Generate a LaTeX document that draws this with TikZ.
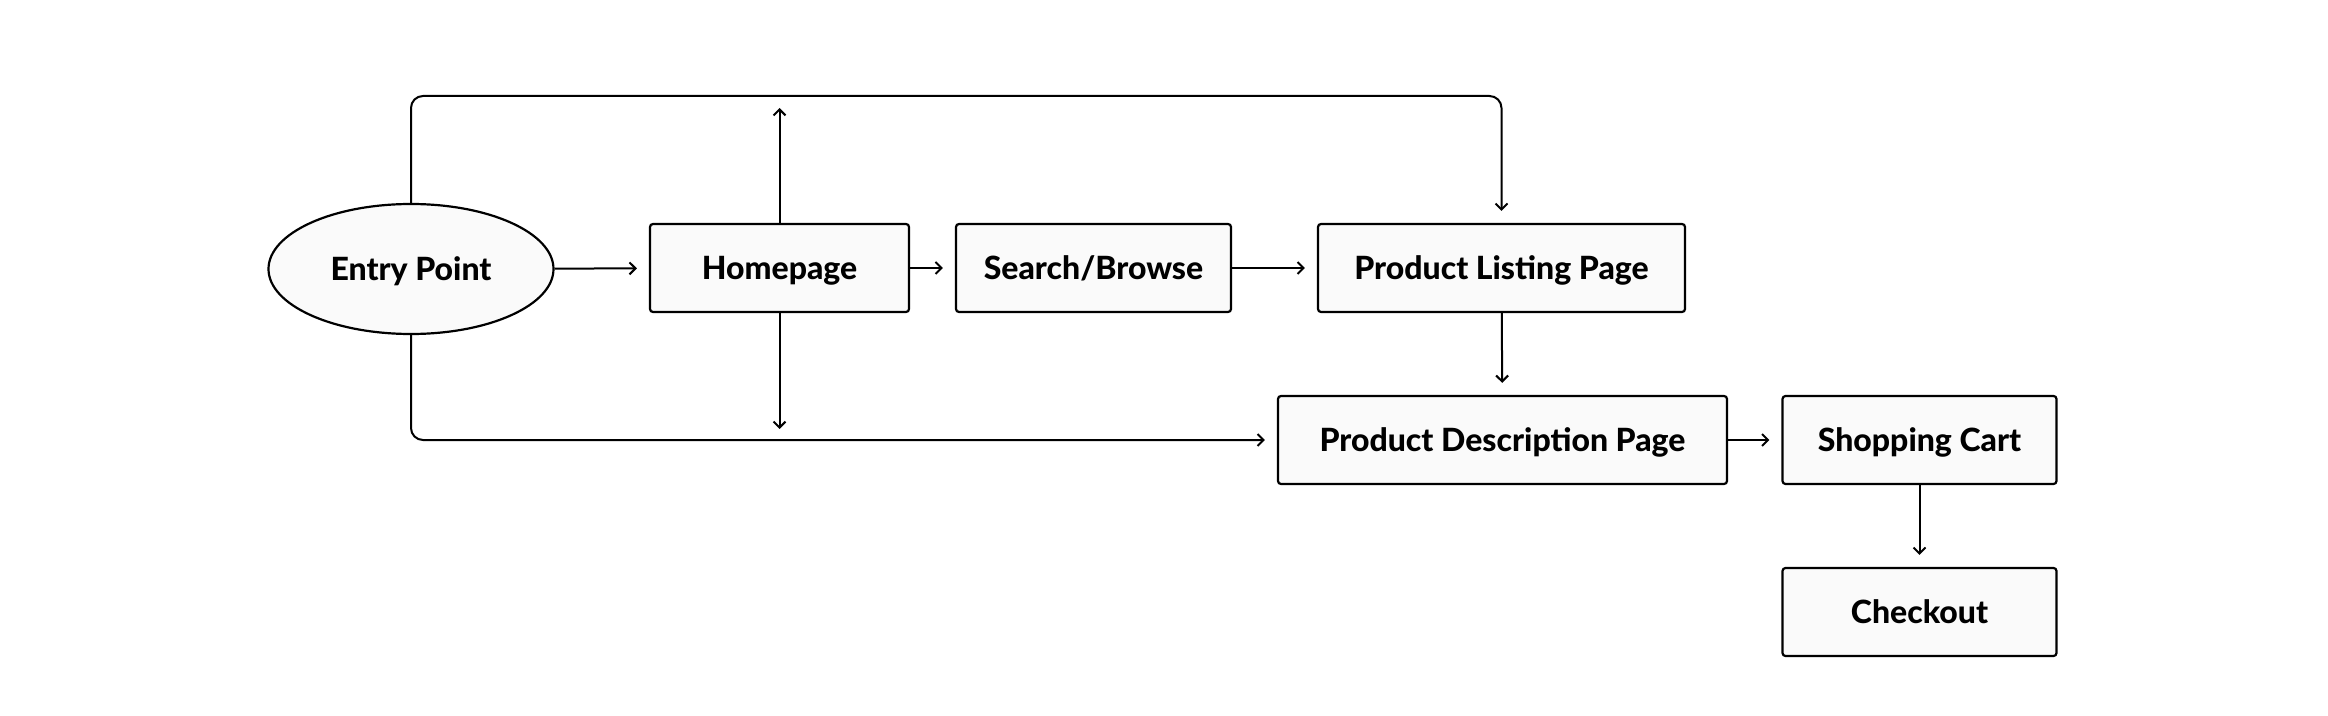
\documentclass[tikz,border=0pt]{standalone}
\usepackage{fontspec}
\setmainfont{Lato}[BoldFont={Lato Heavy}]
\usetikzlibrary{arrows.meta,shapes.geometric}
\begin{document}
\begin{tikzpicture}[x=0.5pt,y=-0.5pt,
  lbl/.style={font=\fontsize{16}{19}\selectfont\bfseries,text height=11.5pt,text depth=0pt},
  box/.style={draw=black,line width=1.1pt,fill=black!2,rounded corners=1.5pt,
    inner sep=0pt,lbl},
  oval/.style={draw=black,line width=1.1pt,fill=black!2,ellipse,inner sep=0pt,lbl},
  arr/.style={line width=1pt,-{Straight Barb[length=3pt,width=6pt]},shorten >=6pt},
  arrn/.style={line width=1pt,-{Straight Barb[length=3pt,width=6pt]}}]
\useasboundingbox (0,0) rectangle (2328,716);
\node[oval,minimum width=142.5pt,minimum height=65pt] (ep) at (411,269) {Entry Point};
\node[box,minimum width=129.5pt,minimum height=44pt] (hp) at (779.5,268) {Homepage};
\node[box,minimum width=137.5pt,minimum height=44pt] (sb) at (1093.5,268) {Search/Browse};
\node[box,minimum width=183.5pt,minimum height=44pt] (plp) at (1501.5,268) {Product Listing Page};
\node[box,minimum width=224.5pt,minimum height=44pt] (pdp) at (1502.5,440) {Product Description Page};
\node[box,minimum width=137pt,minimum height=44pt] (sc) at (1919.5,440) {Shopping Cart};
\node[box,minimum width=137pt,minimum height=44pt] (co) at (1919.5,612) {Checkout};
\coordinate (hpup) at (779.5,108);
\coordinate (hpdn) at (779.5,429);
\draw[arr] (ep) -- (hp);
\draw[arr] (hp) -- (sb);
\draw[arr] (sb) -- (plp);
\draw[arr] (plp) -- (pdp);
\draw[arr] (pdp) -- (sc);
\draw[arr] (sc) -- (co);
\draw[arrn] (hp.north) -- (hpup);
\draw[arrn] (hp.south) -- (hpdn);
\draw[arr,rounded corners=6pt] (ep.north) -- (ep.north |- 0,96) -- (plp.north |- 0,96) -- (plp.north);
\draw[arr,rounded corners=6pt] (ep.south) -- (ep.south |- pdp.west) -- (pdp.west);
\end{tikzpicture}
\end{document}
